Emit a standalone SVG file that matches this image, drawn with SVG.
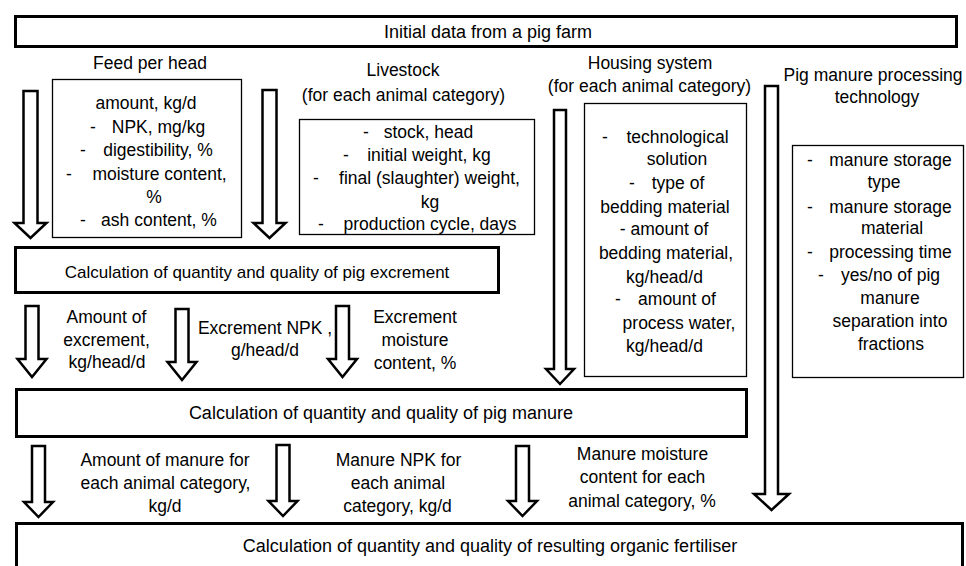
<svg xmlns="http://www.w3.org/2000/svg" width="966" height="566" viewBox="0 0 966 566">
<style>
text{font-family:"Liberation Sans",Arial,sans-serif;font-size:17.5px;fill:#000;text-anchor:middle}
text.d{text-anchor:start}
text.t{font-size:18px}
text.e{font-size:17px}
.thick{fill:#fff;stroke:#000;stroke-width:3}
.thin{fill:#fff;stroke:#000;stroke-width:1.3}
.arr{fill:#fff;stroke:#000;stroke-width:2.5;stroke-linejoin:miter}
</style>
<rect x="0" y="0" width="966" height="566" fill="#fff"/>

<g id="initial-data">
<rect class="thick" x="15.5" y="16.5" width="941" height="30"/>
<text class="t" x="488" y="38">Initial data from a pig farm</text>
</g>

<g id="feed">
<text x="150" y="69">Feed per head</text>
<rect class="thin" x="52.5" y="79.5" width="189" height="158"/>
<text x="146" y="109">amount, kg/d</text>
<text class="d" x="90" y="133">-</text><text x="158.5" y="133">NPK, mg/kg</text>
<text class="d" x="80" y="156">-</text><text x="158" y="156">digestibility, %</text>
<text class="d" x="66" y="180">-</text><text x="159.5" y="180">moisture content,</text>
<text x="154" y="203">%</text>
<text class="d" x="80" y="226">-</text><text x="159" y="226">ash content, %</text>
</g>

<g id="livestock">
<text x="403" y="76">Livestock</text>
<text x="403.5" y="101">(for each animal category)</text>
<rect class="thin" x="299.5" y="119.5" width="235" height="115"/>
<text class="d" x="363" y="138">-</text><text x="428.5" y="138">stock, head</text>
<text class="d" x="343" y="161">-</text><text x="429" y="161">initial weight, kg</text>
<text class="d" x="313" y="184">-</text><text x="429.5" y="184">final (slaughter) weight,</text>
<text x="430" y="208">kg</text>
<text class="d" x="318" y="230">-</text><text x="430" y="230">production cycle, days</text>
</g>

<g id="housing">
<text x="650" y="69">Housing system</text>
<text x="649.5" y="92">(for each animal category)</text>
<rect class="thin" x="584.5" y="103.5" width="162" height="273"/>
<text class="d" x="602" y="143">-</text><text x="677.5" y="143">technological</text>
<text x="677" y="165">solution</text>
<text class="d" x="629" y="189">-</text><text x="678" y="189">type of</text>
<text x="665" y="213">bedding material</text>
<text x="664" y="235">- amount of</text>
<text x="666" y="259">bedding material,</text>
<text x="664.5" y="283">kg/head/d</text>
<text class="d" x="615" y="305">-</text><text x="677" y="305">amount of</text>
<text x="679" y="329">process water,</text>
<text x="664.5" y="352">kg/head/d</text>
</g>

<g id="processing">
<text x="873" y="81">Pig manure processing</text>
<text x="877" y="103">technology</text>
<rect class="thin" x="792.5" y="145.5" width="171" height="232"/>
<text class="d" x="807" y="166">-</text><text x="890.5" y="166">manure storage</text>
<text x="884" y="188">type</text>
<text class="d" x="807" y="213">-</text><text x="890.5" y="213">manure storage</text>
<text x="892" y="234">material</text>
<text class="d" x="807" y="258">-</text><text x="890.5" y="258">processing time</text>
<text class="d" x="818" y="281">-</text><text x="890.5" y="281">yes/no of pig</text>
<text x="890" y="304">manure</text>
<text x="890" y="327">separation into</text>
<text x="891" y="350">fractions</text>
</g>

<g id="excrement-calc">
<rect class="thick" x="15.5" y="247.5" width="483" height="45"/>
<text class="e" x="257" y="278">Calculation of quantity and quality of pig excrement</text>
</g>

<g id="manure-calc">
<rect class="thick" x="16.5" y="389.5" width="730" height="47"/>
<text class="t" x="381" y="419">Calculation of quantity and quality of pig manure</text>
</g>

<g id="fertiliser-calc">
<rect class="thick" x="16.5" y="523.5" width="946" height="60"/>
<text class="t" x="490" y="552">Calculation of quantity and quality of resulting organic fertiliser</text>
</g>

<g id="connectors">
<polygon class="arr" points="23.5,91 37.5,91 37.5,223 46.5,223 30.5,238 14.5,223 23.5,223"/>
<polygon class="arr" points="262.5,90 276.5,90 276.5,223 285.5,223 269.5,238 253.5,223 262.5,223"/>
<polygon class="arr" points="554,110 566,110 566,369 574,369 560,384 546,369 554,369"/>
<polygon class="arr" points="765,86 778,86 778,494 789,494 771.5,510 754,494 765,494"/>
<polygon class="arr" points="25.5,306 38.5,306 38.5,359 46.5,359 32,377 17.5,359 25.5,359"/>
<polygon class="arr" points="175.5,309 188.5,309 188.5,362 196.5,362 182,380 167.5,362 175.5,362"/>
<polygon class="arr" points="336,306 349,306 349,359 357,359 342.5,377 328,359 336,359"/>
<polygon class="arr" points="32,446 45,446 45,502 53,502 38.5,517 24,502 32,502"/>
<polygon class="arr" points="276.5,445 289.5,445 289.5,501 297.5,501 283,516 268.5,501 276.5,501"/>
<polygon class="arr" points="516,446 529,446 529,501 537,501 522.5,516 508,501 516,501"/>
</g>

<g id="connector-labels">
<text x="106.5" y="323">Amount of</text>
<text x="106.5" y="346">excrement,</text>
<text x="107" y="368">kg/head/d</text>
<text x="265" y="334">Excrement NPK ,</text>
<text x="265" y="356">g/head/d</text>
<text x="415" y="323">Excrement</text>
<text x="415" y="346">moisture</text>
<text x="415" y="369">content, %</text>
<text x="165" y="466">Amount of manure for</text>
<text x="165.5" y="489">each animal category,</text>
<text x="165" y="512">kg/d</text>
<text x="398.5" y="466">Manure NPK for</text>
<text x="398" y="489">each animal</text>
<text x="397.5" y="512">category, kg/d</text>
<text x="642.5" y="460">Manure moisture</text>
<text x="642.5" y="483">content for each</text>
<text x="642" y="507">animal category, %</text>
</g>
</svg>
